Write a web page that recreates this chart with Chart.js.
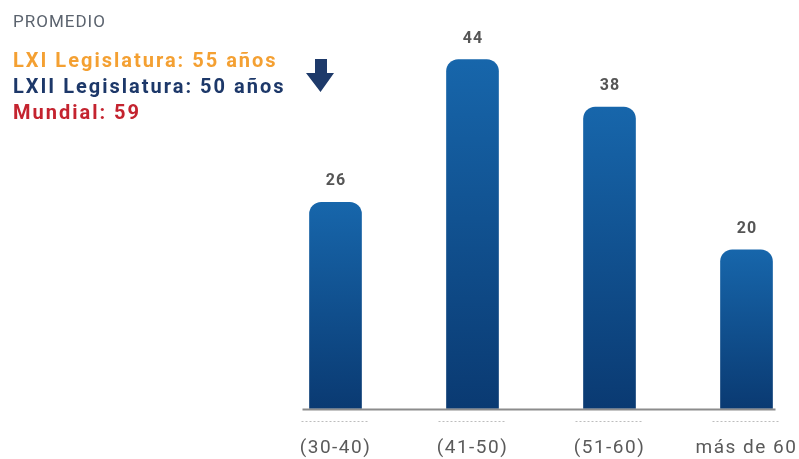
<!DOCTYPE html>
<html>
<head>
<meta charset="utf-8">
<script src="https://cdn.jsdelivr.net/npm/chart.js@4.4.1/dist/chart.umd.min.js"></script>
<style>
    html, body { margin: 0; padding: 0; background: #fff; }
    .wrap { position: relative; width: 799px; height: 459px; }
    #edadChart { position: absolute; left: 0; top: 0; }
    .note { position: absolute; left: 13px; font-family: Roboto, sans-serif; line-height: 1; white-space: nowrap; }
    .promedio { top: 12.7px; font-size: 17px; color: #5b636e; letter-spacing: 1px; }
    .leg { font-size: 20px; font-weight: bold; letter-spacing: 2px; }
    .lxi { top: 50px; color: #f4a032; }
    .lxii { top: 76px; color: #1d3869; }
    .mundial { top: 101.5px; color: #c4232f; }
</style>
</head>
<body>
<div class="wrap">
    <canvas id="edadChart" width="799" height="459"></canvas>
    <div class="note promedio">PROMEDIO</div>
    <div class="note leg lxi">LXI Legislatura: 55 años</div>
    <div class="note leg lxii">LXII Legislatura: 50 años</div>
    <div class="note leg mundial">Mundial: 59</div>
</div>
<script>
const rangos = ['(30-40)', '(41-50)', '(51-60)', 'más de 60'];
const diputados = [26, 44, 38, 20];

// gradiente por barra: claro arriba, oscuro abajo
function barGradient(ctx) {
    const chart = ctx.chart;
    if (!chart.chartArea || ctx.type !== 'data') return '#10508f';
    const y = chart.scales.y;
    const top = y.getPixelForValue(ctx.raw);
    const bottom = y.getPixelForValue(0);
    const g = chart.ctx.createLinearGradient(0, top, 0, bottom);
    g.addColorStop(0, '#1766ab');
    g.addColorStop(1, '#0a3a72');
    return g;
}

const extras = {
    id: 'extras',
    beforeDraw(chart) {
        chart.ctx.letterSpacing = '1.5px';
    },
    afterDatasetsDraw(chart) {
        const c = chart.ctx;
        const x = chart.scales.x;
        const base = chart.scales.y.getPixelForValue(0);
        const bars = chart.getDatasetMeta(0).data;

        c.save();
        // linea base
        c.strokeStyle = '#8c8c8c';
        c.lineWidth = 2;
        c.beginPath();
        c.moveTo(x.getPixelForValue(0) - 33, base + 1);
        c.lineTo(x.getPixelForValue(3) + 29, base + 1);
        c.stroke();

        // punteado bajo cada barra
        c.strokeStyle = '#bdbdbd';
        c.lineWidth = 1;
        c.setLineDash([2, 2]);
        bars.forEach(bar => {
            c.beginPath();
            c.moveTo(bar.x - 34, base + 13);
            c.lineTo(bar.x + 34, base + 13);
            c.stroke();
        });
        c.setLineDash([]);

        // valores
        c.letterSpacing = '1px';
        c.fillStyle = '#555555';
        c.font = 'bold 16px Roboto';
        c.textAlign = 'center';
        c.textBaseline = 'middle';
        bars.forEach((bar, i) => {
            c.fillText(diputados[i], bar.x + 0.5, bar.y - 21);
        });

        // flecha
        c.fillStyle = '#1e3a6a';
        c.beginPath();
        c.moveTo(315, 59);
        c.lineTo(327, 59);
        c.lineTo(327, 73);
        c.lineTo(334, 73);
        c.lineTo(320.5, 92);
        c.lineTo(306, 73);
        c.lineTo(315, 73);
        c.closePath();
        c.fill();
        c.restore();
    }
};

new Chart(document.getElementById('edadChart').getContext('2d'), {
    type: 'bar',
    data: {
        labels: rangos,
        datasets: [{
            data: diputados,
            backgroundColor: barGradient,
            borderRadius: 12,
            borderSkipped: 'bottom',
            barThickness: 52,
            clip: false
        }]
    },
    options: {
        responsive: false,
        animation: false,
        events: [],
        layout: {
            padding: { left: 335.5, right: 52.5, top: 12, bottom: 0 }
        },
        plugins: {
            legend: { display: false },
            tooltip: { enabled: false }
        },
        scales: {
            x: {
                offset: false,
                grid: { display: false, drawTicks: false },
                border: { display: false },
                ticks: {
                    color: '#5a5a5a',
                    font: { family: 'Roboto', size: 19, lineHeight: 1.368 },
                    padding: 26.5,
                    maxRotation: 0,
                    autoSkip: false
                },
                afterFit(scale) {
                    // que las etiquetas no empujen el area del grafico
                    scale.paddingLeft = 0;
                    scale.paddingRight = 0;
                    scale.paddingTop = 0;
                    scale.paddingBottom = 0;
                    scale.height = 50.5;
                }
            },
            y: {
                display: false,
                min: 0,
                max: 50
            }
        }
    },
    plugins: [extras]
});
</script>
</body>
</html>
